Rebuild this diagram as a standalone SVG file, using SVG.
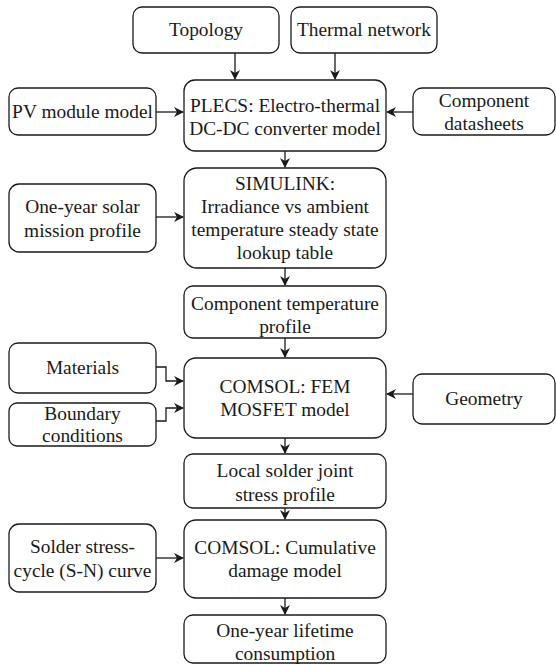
<svg xmlns="http://www.w3.org/2000/svg" width="556" height="666" viewBox="0 0 556 666" font-family="'Liberation Serif', 'DejaVu Serif', serif">
<defs>
<style>
.b{fill:#fff;stroke:#1a1a1a;stroke-width:1.3}
.t{font-family:'Liberation Serif','DejaVu Serif',serif;font-size:19.4px;fill:#1a1a1a;text-anchor:middle}
.c{fill:none;stroke:#1a1a1a;stroke-width:1.3}
</style>
<marker id="ah" viewBox="0 0 10 10" refX="9" refY="5" markerWidth="10" markerHeight="10" markerUnits="userSpaceOnUse" orient="auto">
<path d="M0,0 L10,5 L0,10 L3,5 Z" fill="#1a1a1a"/>
</marker>
</defs>
<rect width="556" height="666" fill="#fff"/>
<g id="connectors">
<path class="c" d="M235,53 V79" marker-end="url(#ah)"/>
<path class="c" d="M335,53 V79" marker-end="url(#ah)"/>
<path class="c" d="M156,112 H183" marker-end="url(#ah)"/>
<path class="c" d="M413,112 H387" marker-end="url(#ah)"/>
<path class="c" d="M285,151 V167" marker-end="url(#ah)"/>
<path class="c" d="M156,217 H183" marker-end="url(#ah)"/>
<path class="c" d="M285,268 V285" marker-end="url(#ah)"/>
<path class="c" d="M285,338 V357" marker-end="url(#ah)"/>
<path class="c" d="M156,367 H166 V381 H183" marker-end="url(#ah)"/>
<path class="c" d="M156,421 H166 V408 H183" marker-end="url(#ah)"/>
<path class="c" d="M413,394 H387" marker-end="url(#ah)"/>
<path class="c" d="M285,438 V453" marker-end="url(#ah)"/>
<path class="c" d="M285,508 V519" marker-end="url(#ah)"/>
<path class="c" d="M156,558 H183" marker-end="url(#ah)"/>
<path class="c" d="M285,598 V614" marker-end="url(#ah)"/>
</g>
<g id="topology"><rect class="b" x="133" y="7" width="146" height="46" rx="9"/><text class="t" x="206" y="36">Topology</text></g>
<g id="thermal-network"><rect class="b" x="291" y="7" width="146" height="46" rx="9"/><text class="t" x="364" y="36">Thermal network</text></g>
<g id="plecs"><rect class="b" x="184" y="80" width="202" height="71" rx="11"/><text class="t" x="285" y="112">PLECS: Electro-thermal</text><text class="t" x="285" y="135">DC-DC converter model</text></g>
<g id="pv-module"><rect class="b" x="9" y="88" width="147" height="47" rx="9"/><text class="t" x="82.5" y="118">PV module model</text></g>
<g id="datasheets"><rect class="b" x="413" y="88" width="142" height="47" rx="9"/><text class="t" x="484" y="107">Component</text><text class="t" x="484" y="130">datasheets</text></g>
<g id="simulink"><rect class="b" x="184" y="168" width="202" height="100" rx="13"/><text class="t" x="285" y="190">SIMULINK:</text><text class="t" x="285" y="213">Irradiance vs ambient</text><text class="t" x="285" y="236">temperature steady state</text><text class="t" x="285" y="259">lookup table</text></g>
<g id="mission-profile"><rect class="b" x="9" y="184" width="147" height="68" rx="10"/><text class="t" x="82.5" y="213">One-year solar</text><text class="t" x="82.5" y="237">mission profile</text></g>
<g id="component-temp"><rect class="b" x="184" y="286" width="202" height="52" rx="9"/><text class="t" x="285" y="310">Component temperature</text><text class="t" x="285" y="333">profile</text></g>
<g id="materials"><rect class="b" x="9" y="343" width="147" height="50" rx="9"/><text class="t" x="82.5" y="374">Materials</text></g>
<g id="boundary"><rect class="b" x="9" y="403" width="147" height="43" rx="8"/><text class="t" x="82.5" y="420">Boundary</text><text class="t" x="82.5" y="442">conditions</text></g>
<g id="comsol-fem"><rect class="b" x="184" y="358" width="202" height="80" rx="12"/><text class="t" x="285" y="393">COMSOL: FEM</text><text class="t" x="285" y="416">MOSFET model</text></g>
<g id="geometry"><rect class="b" x="413" y="374" width="142" height="50" rx="9"/><text class="t" x="484" y="405">Geometry</text></g>
<g id="local-stress"><rect class="b" x="184" y="454" width="202" height="54" rx="9"/><text class="t" x="285" y="477">Local solder joint</text><text class="t" x="285" y="501">stress profile</text></g>
<g id="sn-curve"><rect class="b" x="9" y="524" width="147" height="68" rx="10"/><text class="t" x="82.5" y="553">Solder stress-</text><text class="t" x="82.5" y="577">cycle (S-N) curve</text></g>
<g id="comsol-damage"><rect class="b" x="184" y="520" width="202" height="78" rx="12"/><text class="t" x="285" y="554">COMSOL: Cumulative</text><text class="t" x="285" y="577">damage model</text></g>
<g id="lifetime"><rect class="b" x="184" y="615" width="202" height="48" rx="9"/><text class="t" x="285" y="637">One-year lifetime</text><text class="t" x="285" y="660">consumption</text></g>
</svg>
